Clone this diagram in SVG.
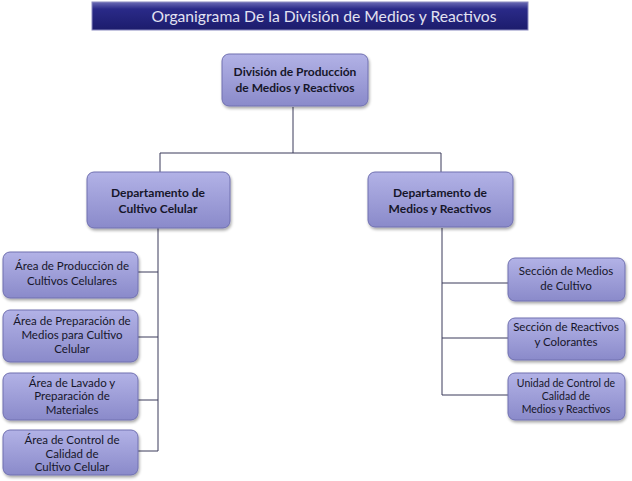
<svg xmlns="http://www.w3.org/2000/svg" width="632" height="481" viewBox="0 0 632 481">
<defs>
<linearGradient id="tg" x1="0" y1="0" x2="0" y2="1">
<stop offset="0" stop-color="#6a6ab4"/>
<stop offset="0.25" stop-color="#2a2a88"/>
<stop offset="1" stop-color="#1c1c6c"/>
</linearGradient>
<linearGradient id="bg" x1="0" y1="0" x2="0" y2="1">
<stop offset="0" stop-color="#b2b2e6"/>
<stop offset="1" stop-color="#8a8aca"/>
</linearGradient>
<filter id="sh" x="-10%" y="-10%" width="130%" height="140%">
<feGaussianBlur in="SourceAlpha" stdDeviation="1.5"/>
<feOffset dx="1" dy="2"/>
<feComponentTransfer><feFuncA type="linear" slope="0.35"/></feComponentTransfer>
<feMerge><feMergeNode/><feMergeNode in="SourceGraphic"/></feMerge>
</filter>
</defs>
<style>
.box{fill:url(#bg);stroke:#7070b0;stroke-width:1;filter:url(#sh)}
.t{font-family:Lato,"Open Sans",sans-serif;fill:#16162a;text-anchor:middle}
.b{font-size:12px;font-weight:bold}
.s{font-size:11.5px}
.ln{stroke:#3a3a5a;stroke-width:1;fill:none}
</style>
<rect width="632" height="481" fill="#ffffff"/>
<g id="title">
<rect x="92" y="2" width="436" height="28" fill="url(#tg)" stroke="#8a8ac0" stroke-width="1"/>
<text x="324" y="22" font-family="Lato,'Open Sans',sans-serif" font-size="16" fill="#e2e2f2" text-anchor="middle" textLength="345" lengthAdjust="spacingAndGlyphs">Organigrama De la División de Medios y Reactivos</text>
</g>
<g id="connectors">
<path class="ln" d="M293 107V153M160 153H441M160 153V172M441 153V172"/>
<path class="ln" d="M158 228V451M138 272H158M138 337H158M138 400H158M138 451H158"/>
<path class="ln" d="M442 228V395H508M442 283H508M442 338H508"/>
</g>
<g id="n-division">
<rect class="box" x="222" y="54" width="146" height="52" rx="7"/>
<text class="t b" x="295" y="76">División de Producción</text>
<text class="t b" x="295" y="92">de Medios y Reactivos</text>
</g>
<g id="n-dep-cultivo">
<rect class="box" x="87" y="172" width="143" height="56" rx="7"/>
<text class="t b" x="158" y="197">Departamento de</text>
<text class="t b" x="158" y="213">Cultivo Celular</text>
</g>
<g id="n-dep-medios">
<rect class="box" x="368" y="172" width="145" height="55" rx="7"/>
<text class="t b" x="440" y="197">Departamento de</text>
<text class="t b" x="440" y="213">Medios y Reactivos</text>
</g>
<g id="n-area-produccion">
<rect class="box" x="3" y="252" width="135" height="46" rx="7"/>
<text class="t s" x="72" y="270">Área de Producción de</text>
<text class="t s" x="72" y="285">Cultivos Celulares</text>
</g>
<g id="n-area-preparacion">
<rect class="box" x="3" y="310" width="135" height="52" rx="7"/>
<text class="t s" x="72" y="325">Área de Preparación de</text>
<text class="t s" x="72" y="339">Medios para Cultivo</text>
<text class="t s" x="72" y="353">Celular</text>
</g>
<g id="n-area-lavado">
<rect class="box" x="3" y="373" width="135" height="47" rx="7"/>
<text class="t s" x="72" y="387">Área de Lavado y</text>
<text class="t s" x="72" y="400">Preparación de</text>
<text class="t s" x="72" y="414">Materiales</text>
</g>
<g id="n-area-control">
<rect class="box" x="3" y="430" width="135" height="45" rx="7"/>
<text class="t s" x="72" y="444">Área de Control de</text>
<text class="t s" x="72" y="458">Calidad de</text>
<text class="t s" x="72" y="471">Cultivo Celular</text>
</g>
<g id="n-sec-medios">
<rect class="box" x="508" y="258" width="117" height="43" rx="7"/>
<text class="t s" x="566" y="275">Sección de Medios</text>
<text class="t s" x="566" y="290">de Cultivo</text>
</g>
<g id="n-sec-reactivos">
<rect class="box" x="508" y="318" width="117" height="42" rx="7"/>
<text class="t s" x="566" y="331">Sección de Reactivos</text>
<text class="t s" x="566" y="346">y Colorantes</text>
</g>
<g id="n-unidad-control">
<rect class="box" x="508" y="373" width="117" height="47" rx="7"/>
<text class="t" font-size="10.5" x="566" y="387">Unidad de Control de</text>
<text class="t" font-size="10.5" x="566" y="400">Calidad de</text>
<text class="t" font-size="10.5" x="566" y="413">Medios y Reactivos</text>
</g>
</svg>
